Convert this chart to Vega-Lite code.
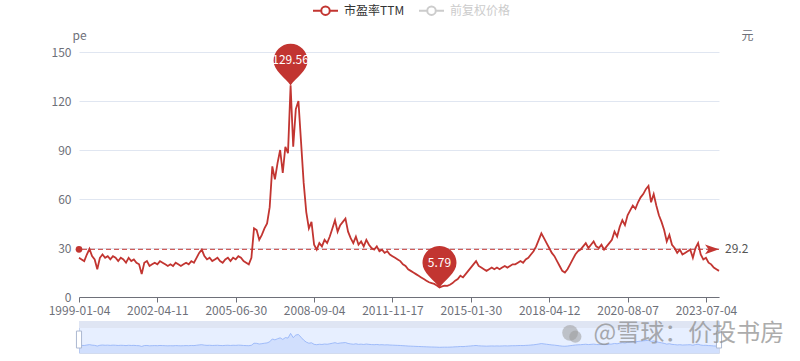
{
  "$schema": "https://vega.github.io/schema/vega-lite/v6.json",
  "background": "white",
  "padding": {"left": 48, "top": -3, "right": 0, "bottom": 0},
  "config": {
    "font": "Noto Sans CJK SC",
    "view": {"stroke": null}
  },
  "spacing": 24,
  "bounds": "flush",
  "datasets": {
    "pe": [
      {"d":"1999-01-04","pe":24},{"d":"1999-02-12","pe":23},{"d":"1999-03-24","pe":22},{"d":"1999-05-04","pe":26},{"d":"1999-06-11","pe":29.5},
      {"d":"1999-07-21","pe":25},{"d":"1999-08-30","pe":23},{"d":"1999-10-08","pe":17},{"d":"1999-11-17","pe":24},{"d":"1999-12-27","pe":26},
      {"d":"2000-02-03","pe":24},{"d":"2000-03-14","pe":25},{"d":"2000-04-21","pe":23},{"d":"2000-06-01","pe":25},{"d":"2000-07-11","pe":24},
      {"d":"2000-08-18","pe":22},{"d":"2000-09-27","pe":24},{"d":"2000-11-06","pe":23},{"d":"2000-12-14","pe":21},{"d":"2001-01-23","pe":24},
      {"d":"2001-03-05","pe":22},{"d":"2001-04-13","pe":23},{"d":"2001-05-24","pe":21},{"d":"2001-07-03","pe":20},{"d":"2001-08-10","pe":14},
      {"d":"2001-09-19","pe":21},{"d":"2001-10-29","pe":22},{"d":"2001-12-07","pe":19},{"d":"2002-01-16","pe":20},{"d":"2002-03-01","pe":21},
      {"d":"2002-04-11","pe":20},{"d":"2002-05-22","pe":22},{"d":"2002-06-28","pe":21},{"d":"2002-08-07","pe":20},{"d":"2002-09-16","pe":19},
      {"d":"2002-10-24","pe":20},{"d":"2002-12-03","pe":19},{"d":"2003-01-10","pe":21},{"d":"2003-02-20","pe":20},{"d":"2003-03-31","pe":19},
      {"d":"2003-05-09","pe":20},{"d":"2003-06-17","pe":21},{"d":"2003-07-25","pe":20},{"d":"2003-09-03","pe":22},{"d":"2003-10-13","pe":21},
      {"d":"2003-11-20","pe":24},{"d":"2003-12-30","pe":27},{"d":"2004-02-09","pe":29},{"d":"2004-03-18","pe":25},{"d":"2004-04-27","pe":23},
      {"d":"2004-06-04","pe":24},{"d":"2004-07-14","pe":22},{"d":"2004-08-23","pe":23},{"d":"2004-09-30","pe":24},{"d":"2004-11-09","pe":22},
      {"d":"2004-12-17","pe":21},{"d":"2005-01-26","pe":23},{"d":"2005-03-08","pe":24},{"d":"2005-04-15","pe":22},{"d":"2005-05-25","pe":24},
      {"d":"2005-06-30","pe":23},{"d":"2005-08-08","pe":25},{"d":"2005-09-15","pe":24},{"d":"2005-10-25","pe":22},{"d":"2005-12-02","pe":21},
      {"d":"2006-01-10","pe":20},{"d":"2006-02-20","pe":24},{"d":"2006-03-30","pe":42},{"d":"2006-05-11","pe":41},{"d":"2006-06-19","pe":35},
      {"d":"2006-07-27","pe":38},{"d":"2006-09-04","pe":42},{"d":"2006-10-13","pe":45},{"d":"2006-11-21","pe":55},{"d":"2006-12-29","pe":80},
      {"d":"2007-02-07","pe":72},{"d":"2007-03-19","pe":82},{"d":"2007-04-26","pe":90},{"d":"2007-06-05","pe":76},{"d":"2007-07-13","pe":92},
      {"d":"2007-08-21","pe":88},{"d":"2007-09-28","pe":129.56},{"d":"2007-11-07","pe":92},{"d":"2007-12-17","pe":115},{"d":"2008-01-24","pe":120},
      {"d":"2008-03-05","pe":95},{"d":"2008-04-14","pe":70},{"d":"2008-05-21","pe":52},{"d":"2008-06-30","pe":42},{"d":"2008-07-25","pe":46},
      {"d":"2008-09-04","pe":32},{"d":"2008-10-16","pe":29},{"d":"2008-11-24","pe":33},{"d":"2009-01-05","pe":31},{"d":"2009-02-12","pe":35},
      {"d":"2009-03-23","pe":33},{"d":"2009-04-30","pe":37},{"d":"2009-06-10","pe":42},{"d":"2009-07-20","pe":47},{"d":"2009-08-27","pe":40},
      {"d":"2009-10-12","pe":44},{"d":"2009-11-19","pe":46},{"d":"2009-12-29","pe":48},{"d":"2010-02-05","pe":40},{"d":"2010-03-19","pe":36},
      {"d":"2010-04-28","pe":33},{"d":"2010-06-07","pe":37},{"d":"2010-07-15","pe":32},{"d":"2010-08-23","pe":34},{"d":"2010-09-30","pe":31},
      {"d":"2010-11-10","pe":35},{"d":"2010-12-20","pe":32},{"d":"2011-01-27","pe":30},{"d":"2011-03-10","pe":29},{"d":"2011-04-19","pe":31},
      {"d":"2011-05-27","pe":28},{"d":"2011-07-06","pe":29},{"d":"2011-08-15","pe":27},{"d":"2011-09-22","pe":28},{"d":"2011-10-28","pe":26},
      {"d":"2011-11-17","pe":25},{"d":"2011-12-27","pe":24},{"d":"2012-02-06","pe":23},{"d":"2012-03-15","pe":22},{"d":"2012-04-24","pe":20},
      {"d":"2012-06-01","pe":19},{"d":"2012-07-11","pe":17},{"d":"2012-08-20","pe":16},{"d":"2012-09-27","pe":15},{"d":"2012-11-06","pe":14},
      {"d":"2012-12-14","pe":13},{"d":"2013-01-24","pe":12},{"d":"2013-03-06","pe":11},{"d":"2013-04-15","pe":10},{"d":"2013-05-23","pe":9},
      {"d":"2013-07-02","pe":8.5},{"d":"2013-08-09","pe":8},{"d":"2013-09-18","pe":7},{"d":"2013-10-30","pe":5.79},{"d":"2013-12-09","pe":6.5},
      {"d":"2014-01-16","pe":7},{"d":"2014-02-26","pe":6.8},{"d":"2014-04-04","pe":7.5},{"d":"2014-05-15","pe":8.5},{"d":"2014-06-24","pe":10},
      {"d":"2014-08-01","pe":11},{"d":"2014-09-10","pe":13},{"d":"2014-10-22","pe":12},{"d":"2014-11-28","pe":14},{"d":"2015-01-08","pe":16},
      {"d":"2015-01-30","pe":18},{"d":"2015-03-12","pe":20},{"d":"2015-04-21","pe":22},{"d":"2015-05-29","pe":19},{"d":"2015-07-08","pe":18},
      {"d":"2015-08-17","pe":17},{"d":"2015-09-25","pe":16},{"d":"2015-11-05","pe":17},{"d":"2015-12-15","pe":18},{"d":"2016-01-22","pe":17},
      {"d":"2016-03-03","pe":18},{"d":"2016-04-12","pe":17},{"d":"2016-05-20","pe":18},{"d":"2016-06-30","pe":19},{"d":"2016-08-09","pe":18},
      {"d":"2016-09-19","pe":19},{"d":"2016-10-27","pe":20},{"d":"2016-12-05","pe":20},{"d":"2017-01-13","pe":21},{"d":"2017-02-23","pe":22},
      {"d":"2017-04-05","pe":21},{"d":"2017-05-12","pe":23},{"d":"2017-06-21","pe":24},{"d":"2017-07-31","pe":26},{"d":"2017-09-07","pe":28},
      {"d":"2017-10-20","pe":31},{"d":"2017-11-28","pe":35},{"d":"2018-01-05","pe":39},{"d":"2018-02-14","pe":36},{"d":"2018-03-16","pe":33},
      {"d":"2018-04-12","pe":30},{"d":"2018-05-10","pe":27},{"d":"2018-06-07","pe":25},{"d":"2018-07-05","pe":22},{"d":"2018-08-02","pe":19},
      {"d":"2018-08-30","pe":16},{"d":"2018-09-28","pe":15},{"d":"2018-10-26","pe":17},{"d":"2018-11-23","pe":20},{"d":"2018-12-21","pe":23},
      {"d":"2019-01-18","pe":26},{"d":"2019-02-22","pe":28},{"d":"2019-03-22","pe":29},{"d":"2019-04-19","pe":31},{"d":"2019-05-20","pe":33},
      {"d":"2019-06-17","pe":30},{"d":"2019-07-15","pe":32},{"d":"2019-08-12","pe":34},{"d":"2019-09-09","pe":31},{"d":"2019-10-14","pe":30},
      {"d":"2019-11-11","pe":32},{"d":"2019-12-09","pe":29},{"d":"2020-01-06","pe":31},{"d":"2020-02-10","pe":33},{"d":"2020-03-09","pe":35},
      {"d":"2020-04-07","pe":40},{"d":"2020-05-08","pe":37},{"d":"2020-06-05","pe":43},{"d":"2020-07-03","pe":47},{"d":"2020-07-20","pe":44},
      {"d":"2020-08-07","pe":50},{"d":"2020-09-11","pe":53},{"d":"2020-10-16","pe":56},{"d":"2020-11-20","pe":54},{"d":"2020-12-25","pe":58},
      {"d":"2021-01-29","pe":61},{"d":"2021-03-05","pe":63},{"d":"2021-04-09","pe":66},{"d":"2021-05-14","pe":68},{"d":"2021-06-18","pe":58},
      {"d":"2021-07-23","pe":63},{"d":"2021-08-27","pe":56},{"d":"2021-09-30","pe":50},{"d":"2021-11-05","pe":46},{"d":"2021-12-10","pe":41},
      {"d":"2022-01-14","pe":34},{"d":"2022-02-25","pe":38},{"d":"2022-04-01","pe":32},{"d":"2022-05-06","pe":30},{"d":"2022-06-10","pe":27},
      {"d":"2022-07-15","pe":29},{"d":"2022-08-19","pe":26},{"d":"2022-09-23","pe":27},{"d":"2022-11-04","pe":28},{"d":"2022-12-09","pe":29},
      {"d":"2023-01-13","pe":24},{"d":"2023-02-17","pe":30},{"d":"2023-03-24","pe":33},{"d":"2023-04-28","pe":26},{"d":"2023-06-02","pe":23},
      {"d":"2023-07-04","pe":24},{"d":"2023-08-08","pe":21},{"d":"2023-09-12","pe":20},{"d":"2023-10-20","pe":18},{"d":"2023-11-24","pe":17},
      {"d":"2023-12-29","pe":16}
    ]
  },
  "vconcat": [
    {
      "width": 640,
      "height": 245,
      "data": {"name": "pe"},
      "layer": [
        {
          "layer": [
            {
              "mark": {"type": "line", "strokeWidth": 1.8},
              "encoding": {
                "x": {
                  "field": "d", "type": "ordinal",
                  "scale": {"type": "point", "padding": 0},
                  "axis": {
                    "values": ["1999-01-04","2002-04-11","2005-06-30","2008-09-04","2011-11-17","2015-01-30","2018-04-12","2020-08-07","2023-07-04"],
                    "title": null, "labelAngle": 0, "grid": false,
                    "domainColor": "#6E7079", "tickColor": "#6E7079", "tickSize": 5,
                    "labelColor": "#6E7079", "labelFontSize": 12, "labelPadding": 3
                  }
                },
                "y": {
                  "field": "pe", "type": "quantitative",
                  "scale": {"domain": [0, 150], "nice": false},
                  "axis": {
                    "values": [0, 30, 60, 90, 120, 150],
                    "ticks": false, "domain": false, "grid": true, "gridColor": "#E0E6F1",
                    "labelColor": "#6E7079", "labelFontSize": 12, "labelPadding": 8,
                    "title": "pe", "titleAngle": 0, "titleX": 0, "titleY": -17,
                    "titleAlign": "center", "titleBaseline": "middle",
                    "titleColor": "#6E7079", "titleFontWeight": "normal", "titleFontSize": 12
                  }
                },
                "color": {
                  "datum": "市盈率TTM", "type": "nominal",
                  "scale": {"domain": ["市盈率TTM", "前复权价格"], "range": ["#c23531", "#cccccc"]},
                  "legend": {
                    "orient": "none", "legendX": 233, "legendY": -55,
                    "direction": "horizontal", "title": null, "padding": 0,
                    "symbolType": "M-1,0L-0.34,0M0.34,0L1,0M-0.34,0A0.34,0.34,0,1,0,0.34,0A0.34,0.34,0,1,0,-0.34,0",
                    "symbolSize": 625, "symbolStrokeWidth": 2, "symbolFillColor": "#ffffff",
                    "labelFontSize": 12, "labelColor": "#333333", "labelOffset": 5, "columnPadding": 10,
                    "encode": {"labels": {"update": {"fill": {"signal": "datum.value === '前复权价格' ? '#cccccc' : '#333333'"}}}}
                  }
                }
              }
            },
            {
              "data": {"values": [{}]},
              "mark": {"type": "rule", "color": "#c23531", "strokeDash": [5, 3], "strokeWidth": 1},
              "encoding": {"y": {"datum": 29.2, "type": "quantitative"}}
            },
            {
              "data": {"values": [{}]},
              "mark": {"type": "point", "filled": true, "size": 45, "shape": "circle", "color": "#c23531", "opacity": 1},
              "encoding": {"x": {"datum": "1999-01-04", "type": "ordinal"}, "y": {"datum": 29.2, "type": "quantitative"}}
            },
            {
              "data": {"values": [{}]},
              "mark": {"type": "point", "filled": true, "size": 196, "shape": "M0,0L-2,-0.7L-1.5,0L-2,0.7Z", "color": "#c23531", "opacity": 1},
              "encoding": {"x": {"datum": "2023-12-29", "type": "ordinal"}, "y": {"datum": 29.2, "type": "quantitative"}}
            },
            {
              "data": {"values": [{}]},
              "mark": {"type": "text", "align": "left", "baseline": "middle", "dx": 6, "fontSize": 12, "color": "#555555"},
              "encoding": {"x": {"datum": "2023-12-29", "type": "ordinal"}, "y": {"datum": 29.2, "type": "quantitative"}, "text": {"value": "29.2"}}
            },
            {
              "transform": [
                {"joinaggregate": [{"op": "max", "field": "pe", "as": "mx"}, {"op": "min", "field": "pe", "as": "mn"}]},
                {"filter": "datum.pe === datum.mx || datum.pe === datum.mn"}
              ],
              "layer": [
                {
                  "mark": {"type": "point", "filled": true, "size": 1156, "shape": "M0,0C-0.3,-0.45,-1,-0.85,-1,-1.45A1,1,0,1,1,1,-1.45C1,-0.85,0.3,-0.45,0,0Z", "color": "#c23531", "opacity": 1},
                  "encoding": {"x": {"field": "d", "type": "ordinal"}, "y": {"field": "pe", "type": "quantitative"}}
                },
                {
                  "mark": {"type": "text", "align": "center", "baseline": "middle", "dy": -25, "fontSize": 12, "color": "#ffffff"},
                  "encoding": {"x": {"field": "d", "type": "ordinal"}, "y": {"field": "pe", "type": "quantitative"}, "text": {"field": "pe", "type": "quantitative", "format": ".2f"}}
                }
              ]
            }
          ]
        },
        {
          "data": {"values": [{}]},
          "mark": {"type": "rule", "opacity": 0},
          "encoding": {
            "y": {
              "datum": 0, "type": "quantitative",
              "scale": {"domain": [0, 150], "nice": false},
              "axis": {
                "orient": "right", "labels": false, "ticks": false, "domain": false, "grid": false,
                "title": "元", "titleAngle": 0, "titleX": 28, "titleY": -17,
                "titleAlign": "center", "titleBaseline": "middle",
                "titleColor": "#6E7079", "titleFontWeight": "normal", "titleFontSize": 12
              }
            }
          }
        }
      ],
      "resolve": {"scale": {"y": "independent"}}
    },
    {
      "width": 640,
      "height": 32,
      "data": {"name": "pe"},
      "view": {"stroke": "#d2dbee"},
      "layer": [
        {
          "data": {"values": [{}]},
          "mark": {"type": "rect", "color": "#87afff", "opacity": 0.2},
          "encoding": {
            "x": {"datum": "1999-01-04", "type": "ordinal", "scale": {"type": "point", "padding": 0}, "axis": null},
            "x2": {"datum": "2023-12-29"},
            "y": {"datum": -45, "type": "quantitative", "scale": {"domain": [-45, 240], "nice": false, "zero": false}, "axis": null},
            "y2": {"datum": 178}
          }
        },
        {
          "data": {"values": [{}]},
          "mark": {"type": "rect", "color": "#dfe5f3", "opacity": 1},
          "encoding": {
            "x": {"datum": "1999-01-04", "type": "ordinal"},
            "x2": {"datum": "2023-12-29"},
            "y": {"datum": 178, "type": "quantitative"},
            "y2": {"datum": 240}
          }
        },
        {
          "mark": {"type": "area", "color": "#8fb0f7", "opacity": 0.25, "line": {"color": "#8fb0f7", "strokeWidth": 0.8, "opacity": 1}},
          "encoding": {
            "x": {"field": "d", "type": "ordinal"},
            "y": {"field": "pe", "type": "quantitative"},
            "y2": {"datum": -45}
          }
        },
        {
          "data": {"values": [{}]},
          "mark": {"type": "point", "filled": true, "size": 289, "shape": "M-0.3,-1L0.3,-1L0.3,1L-0.3,1Z", "fill": "#ffffff", "stroke": "#ACB8D1", "strokeWidth": 1, "opacity": 1},
          "encoding": {"x": {"datum": "1999-01-04", "type": "ordinal"}, "y": {"datum": 75, "type": "quantitative"}}
        },
        {
          "data": {"values": [{}]},
          "mark": {"type": "point", "filled": true, "size": 289, "shape": "M-0.3,-1L0.3,-1L0.3,1L-0.3,1Z", "fill": "#ffffff", "stroke": "#ACB8D1", "strokeWidth": 1, "opacity": 1},
          "encoding": {"x": {"datum": "2023-12-29", "type": "ordinal"}, "y": {"datum": 75, "type": "quantitative"}}
        },
        {
          "data": {"values": [{}]},
          "mark": {"type": "point", "filled": true, "size": 250, "shape": "circle", "color": "#9a9a9a", "opacity": 0.55},
          "encoding": {"x": {"datum": "2018-11-23", "type": "ordinal"}, "y": {"datum": 135, "type": "quantitative"}}
        },
        {
          "data": {"values": [{}]},
          "mark": {"type": "point", "filled": true, "size": 150, "shape": "circle", "color": "#9a9a9a", "opacity": 0.55},
          "encoding": {"x": {"datum": "2019-01-18", "type": "ordinal"}, "y": {"datum": 100, "type": "quantitative"}}
        },
        {
          "data": {"values": [{}]},
          "mark": {"type": "text", "align": "left", "baseline": "middle", "fontSize": 24, "color": "#8a8a8a", "opacity": 0.7},
          "encoding": {"x": {"datum": "2019-08-12", "type": "ordinal"}, "y": {"datum": 124, "type": "quantitative"}, "text": {"value": "@雪球：价投书房"}}
        }
      ]
    }
  ]
}
